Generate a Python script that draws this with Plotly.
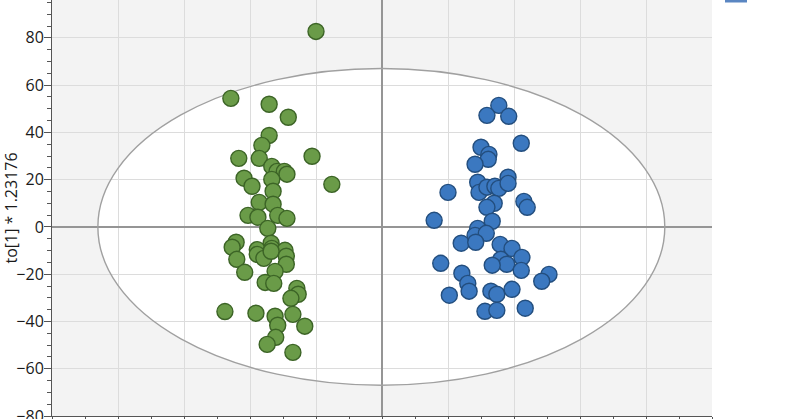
import plotly.graph_objects as go

# Class 1 (green) scores
green_x = [-10.0, -22.9, -17.1, -14.2, -17.1, -18.2, -21.7, -18.6, -10.6, -16.7,
           -15.9, -14.8, -14.4, -20.9, -19.7, -16.7, -7.6, -16.5, -18.6, -16.5,
           -20.3, -18.8, -15.8, -14.4, -17.3, -22.1, -22.7, -16.8, -18.9, -16.7,
           -14.7, -22.0, -18.9, -17.9, -16.8, -14.5, -14.5, -20.8, -16.2, -17.7,
           -16.4, -12.9, -12.7, -13.8, -23.8, -19.1, -16.2, -15.8, -13.5, -11.7,
           -16.1, -17.4, -13.5]
green_y = [82.7, 54.4, 51.9, 46.4, 38.7, 34.5, 29.0, 29.0, 29.9, 25.6,
           23.5, 23.5, 22.3, 20.6, 17.2, 20.1, 18.0, 15.1, 10.4, 9.6,
           4.9, 4.1, 4.9, 3.6, -0.6, -6.5, -8.6, -6.9, -9.6, -9.1,
           -9.9, -13.7, -11.6, -13.3, -10.3, -12.4, -15.8, -19.2, -18.8, -23.5,
           -23.9, -26.0, -28.5, -30.2, -35.8, -36.5, -37.8, -41.6, -37.0, -42.0,
           -46.7, -49.7, -53.1]

# Class 2 (blue) scores
blue_x = [17.7, 15.9, 19.2, 21.1, 15.0, 16.2, 16.1, 14.1, 10.0, 14.5,
          14.7, 15.9, 17.1, 17.7, 19.1, 19.1, 17.0, 15.9, 21.5, 22.0,
          7.9, 16.7, 14.5, 14.1, 15.8, 12.0, 14.2, 17.9, 19.7, 21.2,
          18.0, 18.9, 16.7, 21.1, 8.9, 12.1, 13.0, 13.2, 10.2, 16.5,
          17.4, 19.7, 25.3, 24.2, 15.6, 17.4, 21.7]
blue_y = [51.4, 47.2, 46.8, 35.4, 33.7, 30.7, 28.6, 26.5, 14.6, 18.9,
          14.6, 16.8, 17.2, 16.3, 21.0, 18.4, 10.0, 8.3, 10.8, 8.3,
          2.8, 2.4, -0.6, -3.6, -2.7, -6.9, -6.5, -7.4, -9.1, -12.9,
          -13.7, -15.8, -16.2, -18.4, -15.4, -19.6, -23.9, -27.2, -28.9, -27.2,
          -28.5, -26.4, -20.1, -23.0, -35.7, -35.3, -34.4]

# Hotelling T2 ellipse (centre and semi-axes)
ell_cx, ell_cy = -0.1, 0.0
ell_rx, ell_ry = 42.95, 67.0

x_range = [-50, 50]
y_range = [-80, 96]

fig = go.Figure()

fig.add_shape(type="circle", xref="x", yref="y",
              x0=ell_cx - ell_rx, x1=ell_cx + ell_rx,
              y0=ell_cy - ell_ry, y1=ell_cy + ell_ry,
              fillcolor="white", line=dict(width=0), layer="below")
fig.add_shape(type="circle", xref="x", yref="y",
              x0=ell_cx - ell_rx, x1=ell_cx + ell_rx,
              y0=ell_cy - ell_ry, y1=ell_cy + ell_ry,
              fillcolor="rgba(0,0,0,0)", line=dict(color="#a0a0a0", width=1.4),
              layer="between")

fig.add_trace(go.Scatter(
    x=green_x, y=green_y, mode="markers", name="1",
    marker=dict(size=16, color="#6a9b48", line=dict(color="#3c6426", width=1.4)),
    showlegend=False))
fig.add_trace(go.Scatter(
    x=blue_x, y=blue_y, mode="markers", name="2",
    marker=dict(size=16, color="#3b78c0", line=dict(color="#234e7e", width=1.4)),
    showlegend=False))

# legend sliver at top right
fig.add_shape(type="rect", xref="paper", yref="paper",
              x0=1.0197, x1=1.053, y0=0.994, y1=1.0,
              fillcolor="#5a86c2", line=dict(width=0))

fig.update_layout(
    width=800, height=419,
    margin=dict(l=52, r=88, t=0, b=3),
    paper_bgcolor="white", plot_bgcolor="#f3f3f3",
    font=dict(family="Open Sans, Noto Sans, sans-serif", color="#1a1a1a", size=16),
    showlegend=False,
)
fig.update_xaxes(
    range=x_range, dtick=10, showgrid=True, gridcolor="#dcdcdc", gridwidth=1,
    zeroline=True, zerolinecolor="#959595", zerolinewidth=1.6,
    showline=True, linecolor="#555555", linewidth=1, mirror=False,
    ticks="outside", ticklen=6, tickcolor="#555555",
    minor=dict(dtick=5, ticks="outside", ticklen=6, tickcolor="#555555", showgrid=False),
    showticklabels=False,
    automargin=False,
)
fig.update_yaxes(
    range=y_range, dtick=20, showgrid=True, gridcolor="#dcdcdc", gridwidth=1,
    zeroline=True, zerolinecolor="#959595", zerolinewidth=1.6,
    showline=True, linecolor="#555555", linewidth=1,
    ticks="outside", ticklen=7, tickcolor="#555555",
    minor=dict(dtick=5, ticks="outside", ticklen=4, tickcolor="#555555", showgrid=False),
    ticklabeloverflow="allow", ticklabelstandoff=-3,
    title=dict(text="to[1] * 1.23176", font=dict(size=16), standoff=4),
    automargin=False,
)

fig.write_html("out.html", config={"displayModeBar": False},
               post_script="document.body.style.margin='0px';document.body.style.overflow='hidden';")
